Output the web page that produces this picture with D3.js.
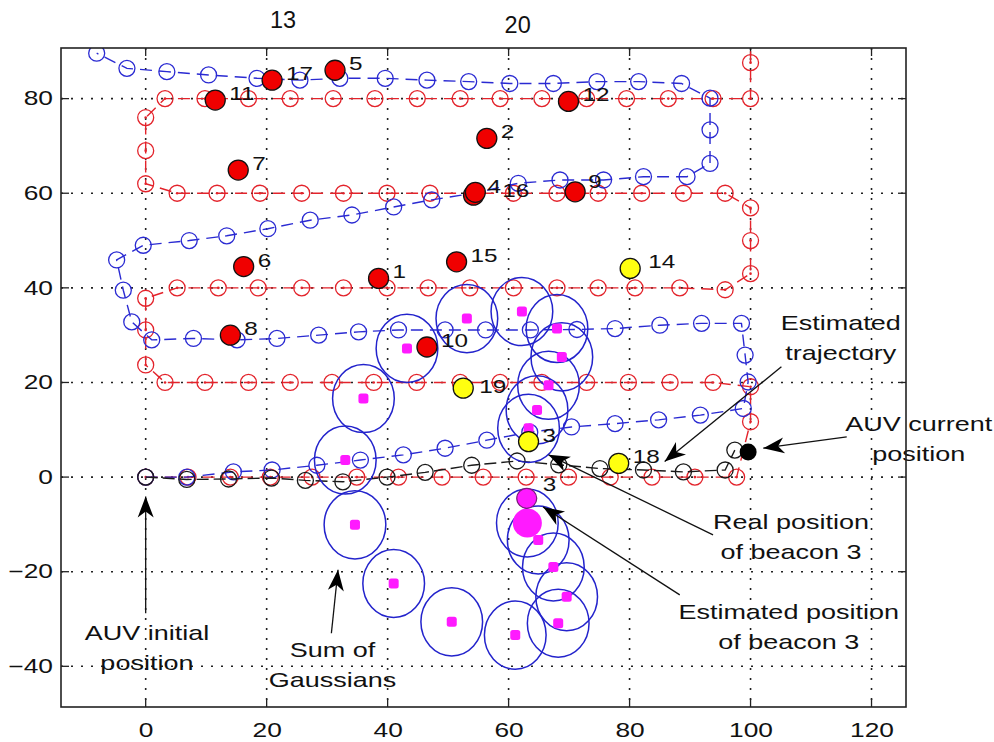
<!DOCTYPE html>
<html><head><meta charset="utf-8">
<script src="https://cdn.jsdelivr.net/npm/d3@7"></script>
<style>
body{margin:0;background:#fff;}
svg{display:block;font-family:"Liberation Sans",Arial,Helvetica,sans-serif;}
</style></head><body>
<svg id="c" width="994" height="742"></svg>
<script>
// ---------------- data ----------------
const xTicks = [0, 20, 40, 60, 80, 100, 120];
const yTicks = [-40, -20, 0, 20, 40, 60, 80];
const topLabels = ["13", "20"];
const topLabelX = [22.7, 61.5];

// planned (red) lawn-mower trajectory
const redPath = [[0,0],[7,0],[14,0],[20.6,0],[27.5,0],[34.9,0],[41.8,0],[49,0],[55.8,0],[62.9,0],[69.9,0],[76.8,0],[83.7,0],[90.8,0],[97.7,0],
 [100,11.7],[100,19.1],[93.8,20],[86.7,20],[79.8,20],[72.9,20],[65.5,20],[58.6,20],[52,20],[44.8,20],[37.7,20],[30.8,20],[23.9,20],[17,20],[9.8,20],[3.2,20],
 [0,23.7],[0,31.1],[0,37.8],[5.2,40],[12,40],[18.6,40],[25.8,40],[32.7,40],[39.9,40],[46.7,40],[53.6,40],[60.8,40],[68,40],[74.8,40],[80.9,40],[88.3,40],[95.8,39.6],
 [100,43],[100,50],[100,56.9],[95.8,60],[88.9,60],[82,60],[74.8,60],[68,60],[60.8,60],[54.1,60],[47,60],[39.9,60],[32.7,60],[25.8,60],[18.9,60],[11.8,60],[5.2,60],
 [0,62],[0,69],[0,76],[3.2,80],[9.8,80],[17,80],[23.9,80],[31,80],[37.9,80],[44.9,80],[52,80],[58.6,80],[65.5,80],[72.9,80],[79.5,80],[86.4,80],[93.8,80],[100,80],[100,87.6],[100,95]];

// dead-reckoning (blue) trajectory
const bluePath = [[0,0],[6.8,0],[14.5,1.1],[20.9,1.5],[28.3,2.5],[35.5,3.6],[42.6,4.7],[49.5,6.1],[56.4,7.8],[63.5,9.5],[70.4,10.6],[77.6,11.3],[84.8,12.1],[91.7,13.1],[98.8,14.5],
 [99.6,20.1],[99.1,25.8],[98.5,32.5],[91.9,32.5],[85,32.1],[77.6,31.4],[71.3,31.2],[63.6,31.1],[56.2,31.1],[49.5,31.1],[41.8,31.1],[35.2,30.7],[28.6,30],[21.7,29.3],[15.1,29],[7.9,29.3],[1,29],
 [-2.3,32.8],[-3.7,39.5],[-4.8,45.9],[-0.4,49],[7.2,50],[13.4,51],[20.2,52.5],[27.2,54.3],[34.1,55.4],[41,57.1],[47.3,58.6],[54.2,60],[61.6,62.1],[68.5,62.8],[75.7,62.8],[82.3,63.5],[89.5,63.5],
 [93.3,66.3],[93.3,73.4],[93.3,80.1],[88.6,83.2],[81.5,83.6],[74.6,83.6],[67.4,83.2],[60.2,83.2],[53.4,83.6],[46.5,83.9],[39.6,84.3],[32.1,84.3],[25.5,83.9],[18.4,84.3],[10.4,85],[3.5,85.7],[-3.1,86.4],[-8.1,89.6]];

// estimated (black) trajectory
const blackPath = [[0,0],[6.8,-0.5],[13.7,-0.4],[20.8,-0.2],[26.4,-0.7],[32.6,-1],[39.9,0],[46.2,1],[53.9,2.5],[61.4,3.4],[68.3,2.6],[75.1,1.8],[82.3,1.5],[88.9,1.1],[95.8,1.5],[97.4,5.7]];
const auvCurrent = [99.6, 5.3];

// beacons
const beaconLabels = ["1","2","4","5","6","7","8","9","10","11","12","15","16","17","14","19","3","18"];
const beaconX = [38.5,56.4,54.2,31.3,16.2,15.3,14,71,46.5,11.5,69.9,51.4,54.5,20.9,80.1,52.5,63.3,78.2];
const beaconY = [42,71.6,59.6,86,44.5,64.9,30,60.3,27.5,79.7,79.4,45.5,60.2,83.9,44.1,18.8,7.5,2.9];
const beaconState = ["loc","loc","loc","loc","loc","loc","loc","loc","loc","loc","loc","loc","loc","loc","new","new","new","new"];
const est3 = [63, -4.5];

// sum of gaussians for beacon 3
const gaussX = [33,36,43.2,53.1,62.2,68,68.8,66.6,64.7,63.3,63.1,64.9,67.4,69.6,68.2,61.1,50.6,41,34.6];
const gaussY = [3.6,16.6,27.2,33.5,35,31.4,25.4,19.4,14.2,10.3,-9.7,-13.3,-19,-25.3,-30.9,-33.4,-30.6,-22.5,-10.1];
const gaussW = [1,1,1,1,1,1,1,1,1,1,3,1,1,1,1,1,1,1,1];
const gaussSx = 5.1, gaussSy = 7.2;

// annotations (data coords: first baseline anchor, arrow tail, arrow head)
const notes = [
  {lines:["Estimated","trajectory"], at:[114.9,31.1], from:[105.1,23.3], to:[85.8,3.3]},
  {lines:["AUV current","position"], at:[127.8,9.7], from:[115.9,8.5], to:[102.1,6.1]},
  {lines:["Real position","of beacon 3"], at:[106.7,-11], from:[93.8,-12.2], to:[66.6,4.7]},
  {lines:["Estimated position","of beacon 3"], at:[106.3,-30], from:[88.3,-24.9], to:[65.7,-6.3]},
  {lines:["AUV initial","position"], at:[0.2,-34.4], from:[0,-28.8], to:[0,-4.1]},
  {lines:["Sum of","Gaussians"], at:[30.9,-38], from:[30.7,-33], to:[31.8,-19.6]}
];

// ---------------- drawing ----------------
const L = 61, R = 906, T = 48, B = 707;
const x = d3.scaleLinear().domain([-14, 125.7]).range([L, R]);
const y = d3.scaleLinear().domain([-48.6, 90.7]).range([B, T]);
const svg = d3.select("#c");
const SX = 1.35;

svg.append("defs").append("clipPath").attr("id","clip")
  .append("rect").attr("x",L).attr("y",T).attr("width",R-L).attr("height",B-T);

// grid
const grid = svg.append("g").attr("stroke","#222").attr("stroke-width",1.6).attr("stroke-dasharray","2,8");
grid.selectAll("line.v").data(xTicks).join("line").attr("class","v")
  .attr("x1",d=>x(d)).attr("x2",d=>x(d)).attr("y1",T).attr("y2",B);
grid.selectAll("line.h").data(yTicks).join("line").attr("class","h")
  .attr("y1",d=>y(d)).attr("y2",d=>y(d)).attr("x1",L).attr("x2",R);

// axes labels (horizontally stretched like the reference)
svg.append("g").attr("transform",`translate(0,${B})`)
  .call(d3.axisBottom(x).tickValues(xTicks).tickSize(0).tickPadding(16))
  .call(g=>{g.select(".domain").remove();
    g.selectAll("text").attr("font-size",19.5).attr("fill","#111").attr("font-family",null)
     .attr("transform",`scale(${SX},1)`);});
svg.append("g").attr("transform",`translate(${L},0)`)
  .call(d3.axisLeft(y).tickValues(yTicks).tickSize(0).tickPadding(8))
  .call(g=>{g.select(".domain").remove();
    g.selectAll("text").attr("font-size",19.5).attr("fill","#111").attr("font-family",null)
     .attr("x",-8/SX).attr("transform",`scale(${SX},1)`);});

// inner tick marks
const tk = svg.append("g").attr("stroke","#222").attr("stroke-width",1.3);
tk.selectAll("line.tb").data(xTicks).join("line").attr("class","tb").attr("x1",d=>x(d)).attr("x2",d=>x(d)).attr("y1",B).attr("y2",B-8);
tk.selectAll("line.tt").data(xTicks).join("line").attr("class","tt").attr("x1",d=>x(d)).attr("x2",d=>x(d)).attr("y1",T).attr("y2",T+8);
tk.selectAll("line.tl").data(yTicks).join("line").attr("class","tl").attr("y1",d=>y(d)).attr("y2",d=>y(d)).attr("x1",L).attr("x2",L+8);
tk.selectAll("line.tr").data(yTicks).join("line").attr("class","tr").attr("y1",d=>y(d)).attr("y2",d=>y(d)).attr("x1",R).attr("x2",R-8);

// top labels
svg.selectAll("text.top").data(topLabels).join("text").attr("class","top")
  .attr("x",(d,i)=>x(topLabelX[i])).attr("y",(d,i)=>i===0?28:33)
  .attr("text-anchor","middle").attr("font-size",23.5).attr("fill","#111").text(d=>d);

const plot = svg.append("g").attr("clip-path","url(#clip)");
const line = d3.line().x(d=>x(d[0])).y(d=>y(d[1]));

function traj(data, color, dash, dot){
  const g = plot.append("g");
  g.append("path").datum(data).attr("d",line).attr("fill","none").attr("stroke",color)
    .attr("stroke-width",1.4).attr("stroke-dasharray",dash);
  g.selectAll("circle.m").data(data).join("circle").attr("class","m")
    .attr("cx",d=>x(d[0])).attr("cy",d=>y(d[1])).attr("r",8)
    .attr("fill","none").attr("stroke",color).attr("stroke-width",1.3);
  if(dot) g.selectAll("circle.d").data(data).join("circle").attr("class","d")
    .attr("cx",d=>x(d[0])).attr("cy",d=>y(d[1])).attr("r",1.3).attr("fill",color);
}
traj(redPath, "#e3232b", "12,7", true);
traj(bluePath, "#2a2ad2", "12,7", false);
traj(blackPath, "#1a1a1a", "12,5", false);

// gaussians
const gg = plot.append("g");
gg.selectAll("ellipse").data(gaussX).join("ellipse")
  .attr("cx",d=>x(d)).attr("cy",(d,i)=>y(gaussY[i]))
  .attr("rx",d=>x(d+gaussSx)-x(d)).attr("ry",(d,i)=>y(gaussY[i])-y(gaussY[i]+gaussSy))
  .attr("fill","none").attr("stroke","#2323cc").attr("stroke-width",1.5);
gg.selectAll("rect").data(gaussX.filter((d,i)=>gaussW[i]===1)).join("rect")
  .attr("x",d=>x(d)-5).attr("y",(d)=>y(gaussY[gaussX.indexOf(d)])-5)
  .attr("width",10).attr("height",10).attr("rx",2.5).attr("fill","#ff1aff");
gg.selectAll("circle.big").data(gaussX.filter((d,i)=>gaussW[i]>1)).join("circle").attr("class","big")
  .attr("cx",d=>x(d)).attr("cy",d=>y(gaussY[gaussX.indexOf(d)])).attr("r",14.5).attr("fill","#ff1aff");

// black current position
plot.append("circle").attr("cx",x(auvCurrent[0])).attr("cy",y(auvCurrent[1])).attr("r",8.5).attr("fill","#000");

// estimated beacon 3
plot.append("circle").attr("cx",x(est3[0])).attr("cy",y(est3[1])).attr("r",10)
  .attr("fill","#ff1aff").attr("stroke","#7a1a7a").attr("stroke-width",1.2);

// beacons
plot.selectAll("circle.b").data(beaconLabels).join("circle").attr("class","b")
  .attr("cx",(d,i)=>x(beaconX[i])).attr("cy",(d,i)=>y(beaconY[i])).attr("r",10)
  .attr("fill",(d,i)=>beaconState[i]==="loc"?"#f00000":"#ffff10")
  .attr("stroke","#111").attr("stroke-width",1.3);

function stretchText(parent, str, px, py, anchor, size){
  parent.append("g").attr("transform",`translate(${px},${py})`)
    .append("text").attr("transform",`scale(${SX},1)`).attr("text-anchor",anchor)
    .attr("font-size",size).attr("fill","#111").text(str);
}
const nudge = {"4":[14,-2],"16":[27,5],"19":[16,5],"9":[13,-4],"14":[18,0]};
const lab = svg.append("g");
beaconLabels.forEach((d,i)=>{
  const n = nudge[d] || [14,0];
  stretchText(lab, d, x(beaconX[i])+n[0], y(beaconY[i])+n[1], "start", 18);
});
stretchText(lab, "3", x(est3[0])+16, y(est3[1])-7, "start", 18);

// annotations
const ann = svg.append("g");
function arrow(from, to){
  const x1=x(from[0]), y1=y(from[1]), x2=x(to[0]), y2=y(to[1]);
  const a = Math.atan2(y2-y1, x2-x1)*180/Math.PI;
  ann.append("line").attr("x1",x1).attr("y1",y1).attr("x2",x2).attr("y2",y2)
    .attr("stroke","#111").attr("stroke-width",1.3);
  ann.append("path").attr("d","M0,0L-21,-8L-15,0L-21,8Z").attr("fill","#000")
    .attr("transform",`translate(${x2},${y2}) rotate(${a})`);
}
notes.forEach(n=>{
  n.lines.forEach((s,k)=> stretchText(ann, s, x(n.at[0]), y(n.at[1])+k*30, "middle", 20));
  arrow(n.from, n.to);
});

// frame
svg.append("rect").attr("x",L).attr("y",T).attr("width",R-L).attr("height",B-T)
  .attr("fill","none").attr("stroke","#222").attr("stroke-width",1.6);
</script>
</body></html>
